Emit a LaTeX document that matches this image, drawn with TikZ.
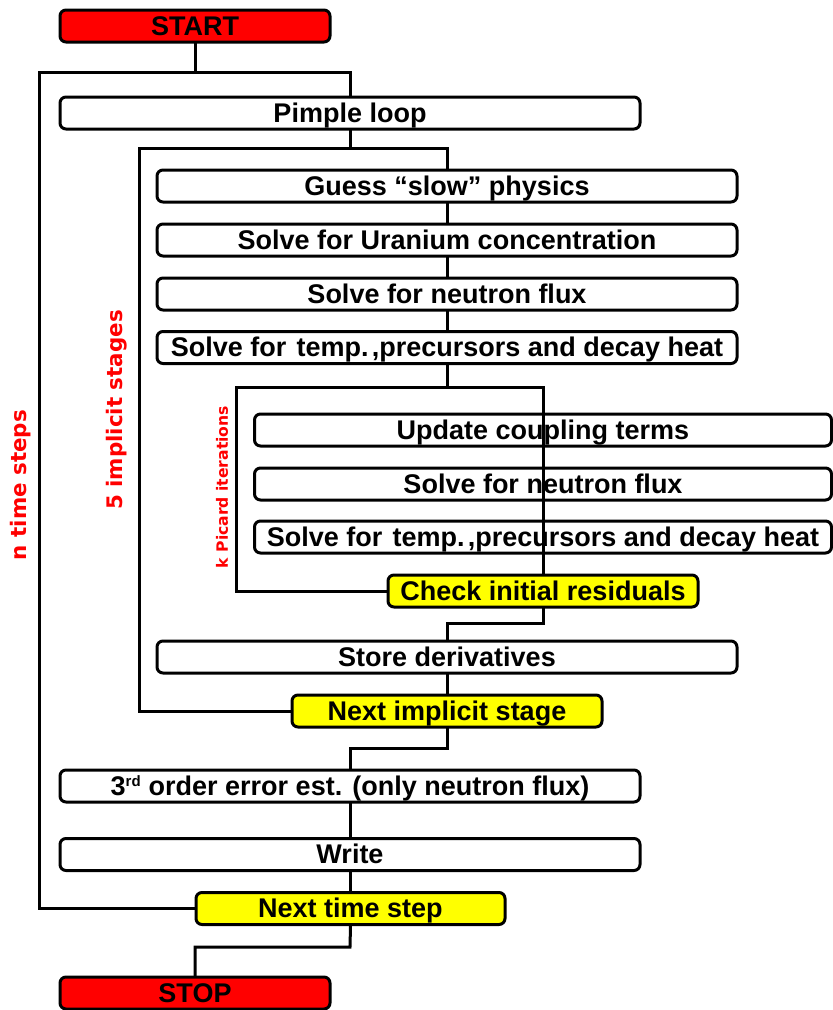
\documentclass[tikz,border=0pt]{standalone}
\usepackage{fontspec}
\setmainfont{Liberation Sans}
\newfontfamily\labelfont{DejaVu Sans}
\definecolor{boxred}{RGB}{255,0,0}
\definecolor{boxyellow}{RGB}{255,255,0}
\newcommand{\templine}{Solve for\hspace{0.1em} temp.\hspace{0.12em},precursors and decay heat}
\begin{document}
\begin{tikzpicture}[x=1pt,y=-1pt,
  box/.style={draw=black, line width=3pt, rounded corners=6pt, fill=white,
    inner sep=0pt, minimum height=32pt, text height=22.8pt, text depth=4pt,
    align=center, font=\fontsize{27}{30}\selectfont\bfseries},
  wide/.style={box, minimum width=580pt},
  half/.style={box, minimum width=310pt},
  term/.style={box, minimum width=270pt, fill=boxred},
  chk/.style={half, fill=boxyellow},
  conn/.style={line width=3pt, line cap=rect},
  looplabel/.style={text=boxred, rotate=90, inner sep=0pt,
    font=\labelfont\fontsize{21.4}{24}\selectfont\bfseries},
  smalllabel/.style={looplabel, font=\labelfont\fontsize{15.6}{18}\selectfont\bfseries}
]
\useasboundingbox (0,0) rectangle (833,1010);

% nodes
\node[term] (start) at (195,26) {START};
\node[wide] (pimple) at (350,113) {Pimple loop};
\node[wide] (guess) at (447,186) {Guess “slow” physics};
\node[wide] (uran) at (447,240) {Solve for Uranium concentration};
\node[wide] (flux1) at (447,294) {Solve for neutron flux};
\node[wide] (temp1) at (447,347.5) {\templine};
\node[box, minimum width=577pt] (upd) at (543,430) {Update coupling terms};
\node[box, minimum width=577pt] (flux2) at (543,484) {Solve for neutron flux};
\node[box, minimum width=577pt] (temp2) at (543,537) {\templine};
\node[chk] (check) at (543,591) {Check initial residuals};
\node[wide] (store) at (447,657) {Store derivatives};
\node[chk] (nimpl) at (447,711) {Next implicit stage};
\node[wide] (third) at (350,786) {3\textsuperscript{\fontsize{15}{15}\selectfont rd} order error est. (only neutron flux)};
\node[wide] (write) at (350,854.5) {Write};
\node[box, minimum width=309pt, fill=boxyellow] (ntime) at (350.5,908.5) {Next time step};
\node[term] (stop) at (195,993) {STOP};

% coordinates of the loop corners
\coordinate (nL) at (39,72);
\coordinate (nR) at (350,72);
\coordinate (iL) at (139,148);
\coordinate (iR) at (447,148);
\coordinate (kL) at (236,387);
\coordinate (kR) at (543,387);
\coordinate (a1) at (543,623);
\coordinate (a2) at (447,623);
\coordinate (b1) at (447,748);
\coordinate (b2) at (350,748);
\coordinate (c1) at (350,947);
\coordinate (c2) at (195,947);

% time step loop
\draw[conn] (start.south) -- (start.south |- nL);
\draw[conn] (ntime.west) -| (nL) -- (nR) -- (pimple.north);
% implicit stage loop
\draw[conn] (pimple.south) -- (pimple.south |- iL);
\draw[conn] (nimpl.west) -| (iL) -- (iR) -- (guess.north);
\draw[conn] (guess.south) -- (uran.north);
\draw[conn] (uran.south) -- (flux1.north);
\draw[conn] (flux1.south) -- (temp1.north);
% picard loop
\draw[conn] (temp1.south) -- (temp1.south |- kL);
\draw[conn] (check.west) -| (kL) -- (kR) -- (check.north);
\draw[conn] (check.south) -- (a1) -- (a2) -- (store.north);
\draw[conn] (store.south) -- (nimpl.north);
\draw[conn] (nimpl.south) -- (b1) -- (b2) -- (third.north);
\draw[conn] (third.south) -- (write.north);
\draw[conn] (write.south) -- (write.south |- ntime.north);
\draw[conn] (ntime.south) -- (c1) -- (c2) -- (stop.north);

% loop labels
\node[looplabel] (lt) at (21,485) {n time steps};
\node[looplabel] (li) at (117,410) {5 implicit stages};
\node[smalllabel] (lk) at (222,487) {k Picard iterations};
\end{tikzpicture}
\end{document}
